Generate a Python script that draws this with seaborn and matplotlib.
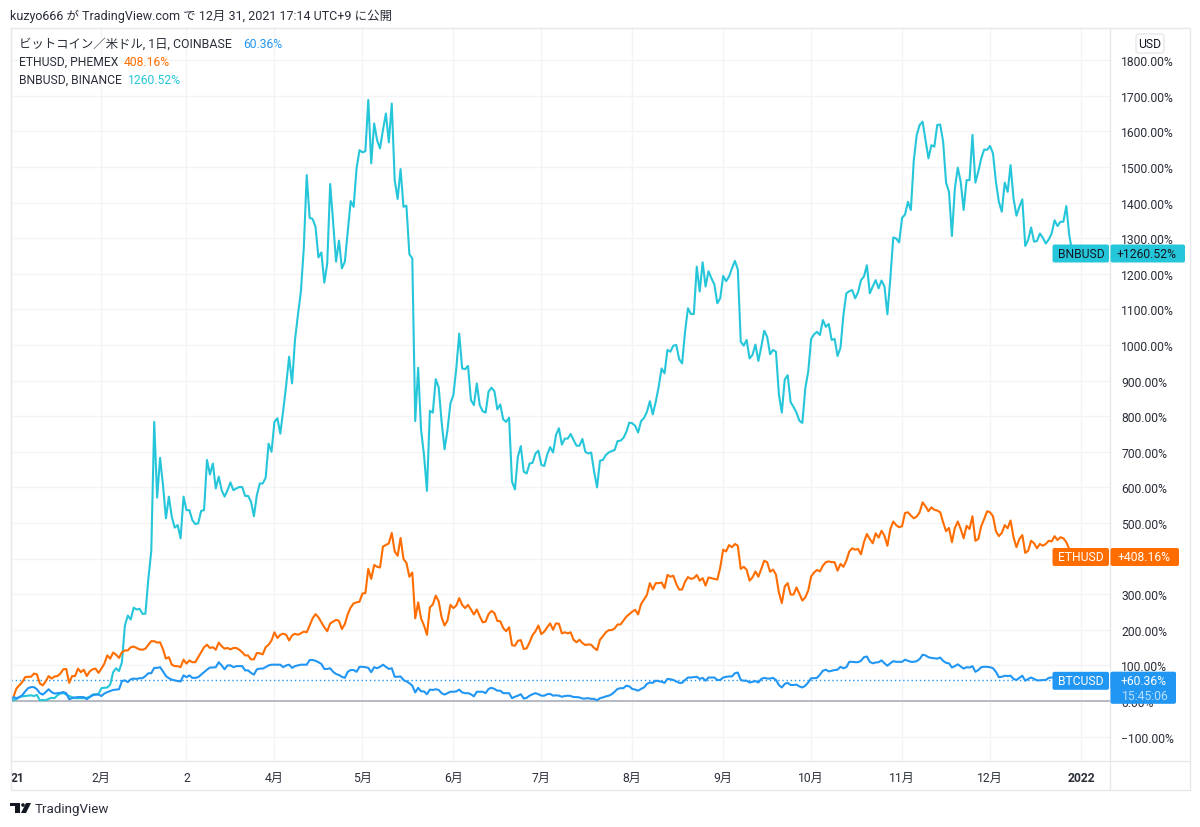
import pandas as pd
import numpy as np
import seaborn as sns
import matplotlib
matplotlib.use("Agg")
import matplotlib.pyplot as plt
from matplotlib.patches import FancyBboxPatch, Rectangle, Polygon, Circle

# daily % change since 2021-01-01
btc_values = [
    0, 11, 8, 11, 16, 27, 36, 39, 39, 33,
    22, 18, 25, 33, 25, 21, 22, 23, 25, 22,
    5, 8, 10, 11, 11, 11, 5, 11, 16, 18,
    18, 14, 21, 25, 28, 31, 32, 33, 56, 58,
    53, 61, 63, 62, 64, 64, 70, 78, 78, 93,
    93, 95, 83, 70, 64, 60, 58, 56, 55, 72,
    67, 72, 65, 65, 67, 74, 81, 88, 94, 94,
    95, 109, 100, 89, 100, 100, 95, 98, 98, 98,
    86, 86, 79, 74, 89, 91, 91, 95, 100, 102,
    102, 102, 102, 95, 100, 102, 93, 98, 100, 102,
    102, 102, 115, 115, 113, 109, 104, 90, 90, 92,
    82, 76, 73, 68, 65, 82, 87, 87, 82, 96,
    96, 95, 93, 81, 95, 92, 96, 102, 96, 90,
    92, 68, 68, 69, 59, 55, 50, 43, 24, 37,
    27, 27, 19, 32, 31, 33, 31, 22, 18, 22,
    26, 26, 27, 32, 24, 22, 22, 19, 13, 26,
    26, 26, 22, 34, 37, 34, 29, 29, 22, 22,
    22, 8, 12, 15, 19, 7, 9, 15, 19, 22,
    19, 15, 15, 19, 20, 15, 16, 15, 12, 14,
    15, 14, 11, 11, 10, 7, 7, 8, 6, 6,
    2, 8, 10, 13, 15, 19, 26, 34, 36, 36,
    43, 41, 34, 32, 29, 34, 38, 48, 52, 51,
    57, 56, 54, 51, 62, 61, 59, 55, 51, 51,
    59, 66, 66, 67, 68, 62, 65, 57, 66, 66,
    66, 59, 59, 66, 68, 69, 69, 78, 80, 59,
    57, 57, 52, 54, 56, 52, 62, 65, 63, 63,
    65, 59, 45, 38, 48, 51, 45, 45, 46, 41,
    38, 43, 52, 64, 64, 65, 74, 85, 88, 83,
    85, 87, 88, 96, 92, 95, 110, 110, 109, 109,
    113, 123, 125, 110, 106, 108, 109, 114, 106, 99,
    106, 112, 110, 110, 110, 116, 113, 110, 110, 112,
    118, 130, 128, 123, 121, 120, 119, 122, 113, 107,
    106, 94, 98, 103, 97, 91, 95, 94, 98, 82,
    87, 95, 96, 96, 95, 92, 82, 67, 68, 71,
    70, 71, 62, 59, 65, 71, 57, 62, 66, 62,
    58, 58, 59, 59, 65, 66, 66, 64, 66, 62,
    60, 58, 58, 60, 60.36,
]

eth_values = [
    0, 11, 35, 44, 53, 67, 68, 68, 77, 75,
    49, 44, 55, 70, 63, 69, 70, 77, 89, 90,
    51, 70, 70, 91, 81, 88, 70, 83, 89, 91,
    79, 91, 105, 128, 119, 136, 130, 121, 137, 142,
    142, 151, 153, 149, 145, 144, 147, 158, 168, 168,
    164, 165, 145, 119, 123, 102, 98, 98, 95, 116,
    105, 114, 109, 109, 123, 137, 151, 158, 149, 151,
    144, 164, 154, 147, 149, 145, 149, 149, 144, 137,
    128, 128, 117, 117, 135, 134, 131, 151, 158, 170,
    193, 177, 186, 189, 186, 170, 184, 189, 186, 190,
    195, 193, 212, 232, 244, 235, 221, 207, 196, 218,
    223, 228, 225, 202, 216, 244, 263, 274, 277, 279,
    302, 303, 371, 343, 382, 377, 375, 434, 438, 443,
    472, 420, 408, 458, 399, 388, 349, 361, 232, 277,
    232, 212, 186, 263, 271, 296, 280, 235, 212, 226,
    270, 261, 268, 289, 270, 261, 270, 257, 243, 257,
    238, 221, 223, 244, 253, 247, 225, 224, 205, 196,
    207, 157, 155, 169, 171, 146, 148, 165, 185, 196,
    212, 188, 195, 207, 218, 200, 218, 217, 190, 193,
    190, 193, 172, 165, 172, 163, 157, 159, 158, 149,
    143, 172, 182, 193, 199, 199, 204, 215, 215, 226,
    237, 244, 251, 256, 243, 272, 285, 298, 331, 313,
    331, 331, 333, 317, 354, 349, 352, 329, 313, 313,
    335, 348, 343, 345, 354, 338, 345, 324, 347, 345,
    343, 341, 375, 425, 420, 438, 432, 441, 436, 371,
    377, 369, 338, 347, 364, 349, 371, 394, 390, 363,
    369, 355, 305, 275, 322, 331, 299, 299, 319, 301,
    282, 291, 310, 350, 361, 368, 364, 380, 390, 392,
    390, 390, 366, 385, 377, 394, 420, 429, 425, 427,
    412, 446, 469, 455, 443, 471, 459, 478, 464, 436,
    483, 504, 494, 488, 491, 528, 530, 521, 513, 518,
    530, 558, 547, 533, 544, 537, 535, 530, 502, 477,
    486, 446, 486, 504, 483, 457, 492, 483, 519, 450,
    455, 491, 511, 533, 530, 519, 477, 463, 472, 494,
    485, 507, 460, 432, 455, 466, 416, 422, 450, 443,
    429, 441, 436, 441, 450, 448, 463, 452, 460, 457,
    446, 427, 415, 412, 408.16,
]

bnb_values = [
    0, 2, 5, 11, 13, 14, 15, 16, 14, 17,
    2, 3, 2, 6, 9, 8, 16, 21, 22, 18,
    14, 11, 8, 8, 8, 8, 9, 12, 18, 19,
    20, 36, 37, 38, 46, 81, 92, 84, 109, 212,
    240, 229, 262, 257, 259, 245, 245, 343, 421, 784,
    571, 683, 606, 513, 574, 517, 487, 494, 457, 574,
    536, 536, 508, 497, 499, 534, 536, 677, 636, 667,
    597, 630, 592, 574, 592, 614, 592, 597, 601, 601,
    576, 576, 560, 519, 578, 611, 611, 627, 723, 700,
    784, 794, 751, 817, 887, 967, 892, 1014, 1084, 1149,
    1271, 1477, 1357, 1354, 1332, 1246, 1260, 1175, 1229, 1452,
    1346, 1234, 1293, 1215, 1234, 1318, 1404, 1388, 1496, 1547,
    1541, 1544, 1688, 1510, 1622, 1575, 1552, 1604, 1650, 1569,
    1678, 1463, 1410, 1494, 1388, 1391, 1255, 1243, 786, 936,
    761, 691, 590, 815, 810, 904, 881, 784, 707, 761,
    836, 859, 934, 1032, 934, 932, 941, 845, 831, 892,
    831, 814, 810, 869, 880, 870, 819, 833, 791, 784,
    796, 616, 594, 686, 716, 644, 639, 667, 669, 695,
    703, 663, 660, 692, 713, 698, 747, 766, 720, 737,
    737, 750, 733, 717, 717, 736, 700, 695, 698, 644,
    600, 675, 677, 691, 698, 702, 705, 730, 731, 739,
    756, 782, 780, 773, 754, 786, 795, 812, 842, 805,
    840, 882, 934, 920, 986, 981, 998, 1000, 960, 948,
    1037, 1103, 1087, 1087, 1220, 1150, 1232, 1164, 1207, 1187,
    1170, 1117, 1131, 1194, 1179, 1192, 1215, 1236, 1212, 1009,
    998, 1014, 962, 972, 1001, 955, 995, 1040, 1023, 974,
    986, 981, 861, 810, 903, 915, 839, 826, 810, 787,
    781, 878, 925, 1017, 1030, 1037, 1028, 1070, 1051, 1059,
    1014, 1017, 969, 992, 1084, 1145, 1151, 1154, 1131, 1148,
    1182, 1192, 1224, 1145, 1164, 1182, 1159, 1181, 1164, 1086,
    1187, 1302, 1299, 1288, 1357, 1366, 1402, 1379, 1519, 1590,
    1618, 1627, 1575, 1524, 1561, 1557, 1618, 1619, 1571, 1456,
    1430, 1306, 1440, 1498, 1458, 1379, 1463, 1463, 1590, 1456,
    1487, 1524, 1549, 1548, 1559, 1538, 1458, 1402, 1374, 1456,
    1430, 1505, 1412, 1363, 1388, 1409, 1278, 1295, 1330, 1290,
    1292, 1313, 1301, 1285, 1296, 1313, 1350, 1334, 1346, 1346,
    1390, 1309, 1262, 1275, 1260.52,
]

tick_dates = ["2021-01-01", "2021-02-01", "2021-03-02", "2021-04-01", "2021-05-01", "2021-06-01",
              "2021-07-01", "2021-08-01", "2021-09-01", "2021-10-01", "2021-11-01", "2021-12-01",
              "2022-01-01"]
tick_labels = ["21", "2月", "2", "4月", "5月", "6月", "7月", "8月", "9月", "10月", "11月", "12月", "2022"]
y_ticks = list(range(-100, 1900, 100))

BTC_COLOR = "#2196f3"
ETH_COLOR = "#ff6d00"
BNB_COLOR = "#26c6da"
GRID = "#f4f4f7"
BORDER = "#e8e8ec"
DARK = "#131722"
FONT = ["Roboto", "Noto Sans CJK JP", "DejaVu Sans"]

sns.set_theme(style="white")
plt.rcParams["font.family"] = FONT

dates = pd.date_range("2021-01-01", periods=len(btc_values), freq="D")
df = pd.concat([
    pd.DataFrame({"date": dates, "pct": bnb_values, "symbol": "BNBUSD"}),
    pd.DataFrame({"date": dates, "pct": eth_values, "symbol": "ETHUSD"}),
    pd.DataFrame({"date": dates, "pct": btc_values, "symbol": "BTCUSD"}),
])

W, H = 1200, 828
fig = plt.figure(figsize=(W / 100, H / 100), dpi=100, facecolor="white")
ax = fig.add_axes([10.5 / W, 1 - 762 / H, (1110 - 10.5) / W, (762 - 28) / H])

sns.lineplot(data=df, x="date", y="pct", hue="symbol", estimator=None, sort=False, legend=False,
             hue_order=["BNBUSD", "ETHUSD", "BTCUSD"],
             palette={"BTCUSD": BTC_COLOR, "ETHUSD": ETH_COLOR, "BNBUSD": BNB_COLOR},
             linewidth=1.5, ax=ax, zorder=3)

ax.set_xlim(pd.Timestamp("2021-01-01"), pd.Timestamp("2021-01-01") + pd.Timedelta(days=374.9))
ax.set_ylim(-168.5, 1893)
ax.set_xlabel("")
ax.set_ylabel("")
for s in ax.spines.values():
    s.set_visible(False)

ax.set_xticks(pd.to_datetime(tick_dates))
ax.set_xticklabels(tick_labels)
ax.yaxis.tick_right()
ax.set_yticks(y_ticks)
# the 400% label sits behind the ETH tag in the original, so it stays blank
ax.set_yticklabels(["" if v == 400 else f"{v:.2f}%".replace("-", "−") for v in y_ticks])
ax.tick_params(axis="y", length=0, pad=8, labelsize=8.7, labelcolor="#2a2e39")
ax.tick_params(axis="x", length=0, pad=7, labelsize=8.7, labelcolor="#2a2e39")
ax.grid(True, color=GRID, linewidth=1)
ax.set_axisbelow(True)
for lab in ax.get_xticklabels():
    if lab.get_text() in ("21", "2022"):
        lab.set_fontweight("bold")
ax.get_xticklabels()[0].set_ha("left")

ax.axhline(0, color="#b2b5be", linewidth=1.3, zorder=2)
ax.axhline(btc_values[-1], color=BTC_COLOR, linewidth=1, linestyle=(0, (1, 2)), zorder=2)

# everything around the plot is placed in pixels on an overlay
ov = fig.add_axes([0, 0, 1, 1], zorder=5)
ov.set_xlim(0, W)
ov.set_ylim(H, 0)
ov.axis("off")
ov.patch.set_alpha(0)

ov.add_patch(Rectangle((10.5, 28.5), 1179, 762.5, fill=False, edgecolor=BORDER, linewidth=1))
ov.plot([1110, 1110], [28.5, 791], color=BORDER, linewidth=1)
ov.plot([10.5, 1189.5], [762, 762], color=BORDER, linewidth=1)


def value_px(v):
    return H - ax.transData.transform((0, v))[1] + 1.3


def tag(x0, x1, y0, y1, color):
    ov.add_patch(FancyBboxPatch((x0 + 1.5, y0 + 1.5), x1 - x0 - 3, y1 - y0 - 3, boxstyle="round,pad=1.5,rounding_size=2",
                                facecolor=color, edgecolor="none", zorder=6))


def price_tags(name, pct, color, text_color, right):
    yc = value_px(pct)
    tag(1052.5, 1109, yc - 9, yc + 9, color)
    ov.text(1081, yc, name, ha="center", va="center", fontsize=8.7, color=text_color, zorder=7)
    tag(1110.5, right, yc - 9, yc + 9, color)
    ov.text(1147 if right > 1180 else 1144, yc, f"+{pct:.2f}%", ha="center", va="center", fontsize=8.7,
            color=text_color, zorder=7)


price_tags("BNBUSD", bnb_values[-1], BNB_COLOR, DARK, 1185)
price_tags("ETHUSD", eth_values[-1], ETH_COLOR, "white", 1179)
yc = value_px(btc_values[-1])
tag(1110.5, 1176, yc - 9, yc + 23, BTC_COLOR)
price_tags("BTCUSD", btc_values[-1], BTC_COLOR, "white", 1176)
ov.text(1145, yc + 15, "15:45:06", ha="center", va="center", fontsize=8.7, color="#bbdefb", zorder=7)

# USD button
ov.add_patch(FancyBboxPatch((1138, 37), 24, 15, boxstyle="round,pad=2,rounding_size=3",
                            facecolor="white", edgecolor=BORDER, linewidth=1, zorder=6))
ov.text(1150, 44, "USD", ha="center", va="center", fontsize=8.7, color=DARK, zorder=7)

# header and legend
ov.text(10.5, 16, "kuzyo666 が TradingView.com で 12月 31, 2021 17:14 UTC+9 に公開", ha="left", va="center",
        fontsize=8.97, color="#2a2e39")
ov.text(19, 44, "ビットコイン／米ドル, 1日, COINBASE", ha="left", va="center", fontsize=8.95, color="#2a2e39")
ov.text(243, 44, "60.36%", ha="left", va="center", fontsize=8.7, color=BTC_COLOR)
ov.text(19, 62, "ETHUSD, PHEMEX", ha="left", va="center", fontsize=8.7, color="#2a2e39")
ov.text(123.5, 62, "408.16%", ha="left", va="center", fontsize=8.7, color=ETH_COLOR)
ov.text(19, 80, "BNBUSD, BINANCE", ha="left", va="center", fontsize=8.7, color="#2a2e39")
ov.text(128, 80, "1260.52%", ha="left", va="center", fontsize=8.7, color=BNB_COLOR)

# footer logo
ov.add_patch(Polygon([(10, 804), (20, 804), (20, 814), (15, 814), (15, 807.5), (10, 807.5)],
                     facecolor=DARK, edgecolor="none"))
ov.add_patch(Circle((23, 806), 1.8, facecolor=DARK, edgecolor="none"))
ov.add_patch(Polygon([(26, 804), (31, 804), (26, 814), (21, 814)], facecolor=DARK, edgecolor="none"))
ov.text(35, 809.5, "TradingView", ha="left", va="center", fontsize=9.6, color="#2a2e39")

plt.savefig("out.png", dpi=100)
plt.close()
